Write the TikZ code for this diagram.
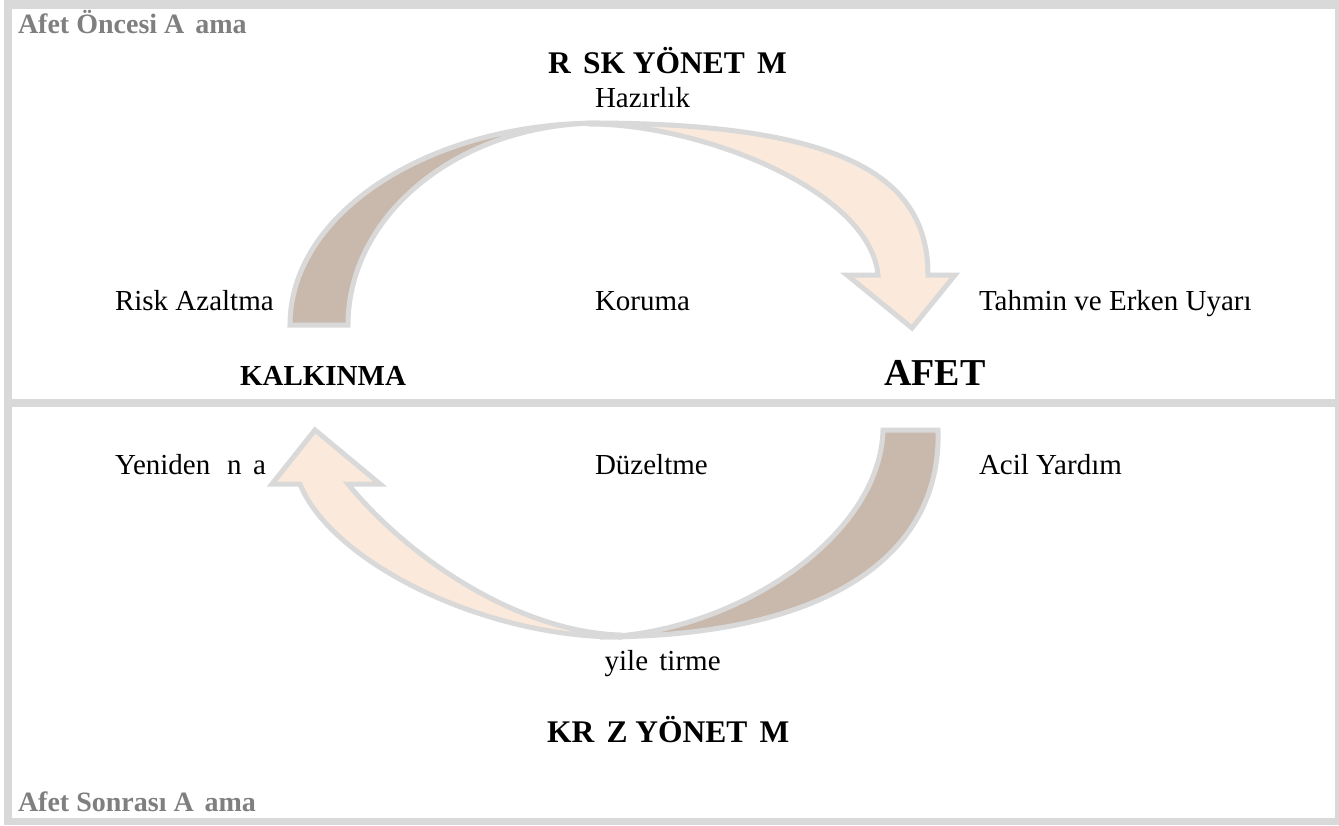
\documentclass[tikz,border=0pt]{standalone}
\usepackage{fontspec}
\setmainfont{Liberation Serif}
\definecolor{bordergray}{HTML}{D9D9D9}
\definecolor{labelgray}{HTML}{7F7F7F}
\definecolor{arrowbrown}{HTML}{C9B9AC}
\definecolor{arrowpeach}{HTML}{FBEADB}
\begin{document}
\begin{tikzpicture}[x=1pt,y=-1pt,
  lbl/.style={anchor=base west, inner sep=0, outer sep=0, font=\fontsize{29}{34}\selectfont},
  ttl/.style={anchor=base west, inner sep=0, outer sep=0, font=\bfseries\fontsize{31.5}{36}\selectfont},
  phase/.style={anchor=base west, inner sep=0, outer sep=0, text=labelgray, font=\bfseries\fontsize{28}{32}\selectfont},
  band/.style={draw=bordergray, line width=5pt, line join=miter, miter limit=4},
  ]
\useasboundingbox (0,0) rectangle (1339,825);
\fill[white] (0,0) rectangle (1339,825);
\fill[bordergray] (4,0) rectangle (1339,825);
\fill[white] (12,9) rectangle (1335,399);
\fill[white] (12,407) rectangle (1335,818);

% upper curved arrow: back part
\filldraw[band, fill=arrowbrown] (290,325) .. controls (290,213) and (429,123) .. (600,123)
  .. controls (461,123) and (348,213) .. (348,325) -- cycle;
% upper curved arrow: front part with head
\filldraw[band, fill=arrowpeach] (590,123) .. controls (850,123) and (928,180) .. (928,275)
  -- (955,275) -- (912,328) -- (847,275) -- (878,275)
  .. controls (870,190) and (700,124) .. (590,124) -- cycle;

% lower curved arrow: back part
\filldraw[band, fill=arrowbrown] (938,430) .. controls (942,560) and (820,637) .. (600,637)
  .. controls (730,634) and (880,540) .. (883,430) -- cycle;
% lower curved arrow: front part with head
\filldraw[band, fill=arrowpeach] (620,637) .. controls (480,637) and (330,560) .. (300,484)
  -- (272,484) -- (315,430) -- (380,484) -- (348,484)
  .. controls (410,560) and (520,632) .. (620,635) -- cycle;

\node[phase] (pre) at (18,33) {Afet Öncesi A\hspace{.389em}ama};
\node[phase] (post) at (18,811) {Afet Sonrası A\hspace{.389em}ama};
\node[ttl] (risk) at (548,73) {R\hspace{.389em}SK YÖNET\hspace{.389em}M};
\node[ttl] (kriz) at (547,742) {KR\hspace{.389em}Z YÖNET\hspace{.389em}M};
\node[lbl] (hazir) at (595,107) {Hazırlık};
\node[lbl] (riskaz) at (115,310) {Risk Azaltma};
\node[lbl] (koruma) at (595,310) {Koruma};
\node[lbl] (tahmin) at (979,310) {Tahmin ve Erken Uyarı};
\node[anchor=base west, inner sep=0, outer sep=0, font=\bfseries\fontsize{29}{34}\selectfont] (kalk) at (240,385) {KALKINMA};
\node[anchor=base west, inner sep=0, outer sep=0, font=\bfseries\fontsize{38}{44}\selectfont] (afet) at (884,385) {AFET};
\node[lbl] (yeniden) at (115,474) {Yeniden \hspace{.333em}n\hspace{.389em}a};
\node[lbl] (duz) at (595,474) {Düzeltme};
\node[lbl] (acil) at (979,474) {Acil Yardım};
\node[lbl] (iyi) at (595,670) {\hspace{.333em}yile\hspace{.389em}tirme};
\end{tikzpicture}
\end{document}
